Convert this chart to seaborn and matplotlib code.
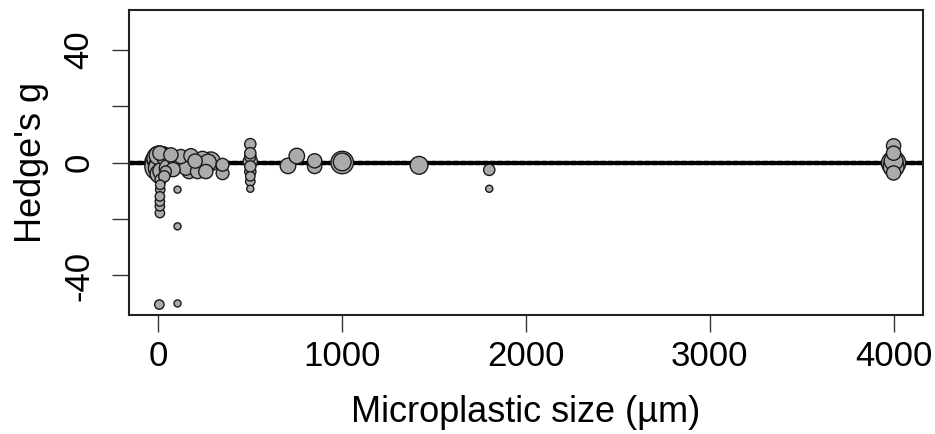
import matplotlib
matplotlib.use("Agg")
import matplotlib.pyplot as plt
import seaborn as sns
import pandas as pd

# Microplastic particle size (µm), effect size (Hedge's g) and study weight
size_um = [0, 5, 10, 20, 2, 30, 15, 8, 40, 32, 12, 10, 10, 8, 8, 8, 8, 5,
           0, 3, 6, 25, 45, 18, 50, 1, 35,
           68, 122, 177, 240, 285, 213, 258, 167, 104, 104, 104, 104,
           349, 349, 60, 140, 190, 90, 150, 200, 270, 80,
           500, 500, 500, 500, 500, 500, 500, 500, 500,
           705, 753, 850, 850, 1000, 1000, 1418, 1800, 1800,
           4000, 4000, 4000, 4000, 4000, 4000]
hedges_g = [0.0, 1.0, -1.0, 2.0, -2.0, 0.5, -3.0, 3.3, -3.2, -4.9, -6.1, -7.9, -9.6, -12.0, -13.8, -15.5, -17.9, -50.3,
            -1.5, 1.5, -4.0, -1.0, 1.0, 0.0, -2.0, 2.5, 2.0,
            2.7, 2.1, 2.4, 1.0, 0.4, -3.2, -3.2, -3.2, -1.2, -9.6, -22.6, -49.9,
            -0.8, -3.8, -1.0, 0.0, -1.0, 1.5, -2.0, 0.5, 0.0, -2.5,
            6.5, 3.3, 2.1, 0.4, -1.4, -3.2, -4.9, -6.7, -9.3,
            -1.2, 2.3, 0.6, -1.4, 0.0, 0.2, -1.0, -2.6, -9.3,
            5.9, 3.3, -0.2, 0.5, -3.7, -1.5]
weight = [12, 10, 9, 8, 8, 7, 6, 5, 4, 4, 4, 3.5, 3.5, 3.5, 3.5, 3.5, 3.5, 3.5,
          12, 10, 7, 9, 7, 9, 6, 7, 6,
          5, 5, 5, 6, 7, 5, 5, 5, 5, 3, 3, 3,
          4.5, 4.5, 6, 6, 5, 5.5, 5, 5, 6, 5,
          4, 4, 4, 5, 4, 4, 3.5, 3.5, 3,
          5.5, 5.5, 5, 5, 9, 6.5, 6.5, 4, 3,
          5, 5, 10, 7, 5, 8]

# Meta-regression fit (estimate and confidence band)
fit_x = [-160, 4160]
fit_y = [-0.1, -0.1]
ci_lo = [-0.6, -0.6]
ci_hi = [0.4, 0.4]

x_ticks = [0, 1000, 2000, 3000, 4000]
y_ticks = [-40, -20, 0, 20, 40]
y_ticklabels = ["-40", "", "0", "", "40"]

df = pd.DataFrame({"size": size_um, "g": hedges_g, "w": weight})
df = df.sort_values("w", ascending=False)

sns.set_style("white")
plt.rcParams["font.family"] = ["Liberation Sans", "DejaVu Sans"]
plt.rcParams["text.color"] = "black"
plt.rcParams["axes.labelcolor"] = "black"
plt.rcParams["xtick.color"] = "black"
plt.rcParams["ytick.color"] = "black"

fig = plt.figure(figsize=(9.35, 4.34), dpi=100)
ax = fig.add_axes([129 / 935, 1 - 315 / 434, (923 - 129) / 935, (315 - 10) / 434])

sns.lineplot(x=fit_x, y=fit_y, ax=ax, color="black", linewidth=3, zorder=1)
sns.lineplot(x=fit_x, y=ci_lo, ax=ax, color="black", linewidth=1, linestyle="--", zorder=1)
sns.lineplot(x=fit_x, y=ci_hi, ax=ax, color="black", linewidth=1, linestyle="--", zorder=1)

sns.scatterplot(data=df, x="size", y="g", size="w", sizes=(26, 380),
                color="#ababab", edgecolor="#1a1a1a", linewidth=1.0,
                legend=False, ax=ax, zorder=3)

ax.set_xlim(-160, 4160)
ax.set_ylim(-54, 54)
ax.set_xticks(x_ticks)
ax.set_xticklabels([str(t) for t in x_ticks])
ax.set_yticks(y_ticks)
ax.set_yticklabels(y_ticklabels, rotation=90, va="center")
ax.tick_params(axis="both", direction="out", length=12, width=1, color="#333333",
               labelsize=25, pad=6, left=True, bottom=True)
ax.tick_params(axis="y", pad=12)
for s in ax.spines.values():
    s.set_color("#222222")
    s.set_linewidth(1.5)

ax.set_xlabel("Microplastic size (µm)", fontsize=26, labelpad=16)
ax.set_ylabel("Hedge's g", fontsize=26, labelpad=10)

fig.savefig("out.png", dpi=100)
